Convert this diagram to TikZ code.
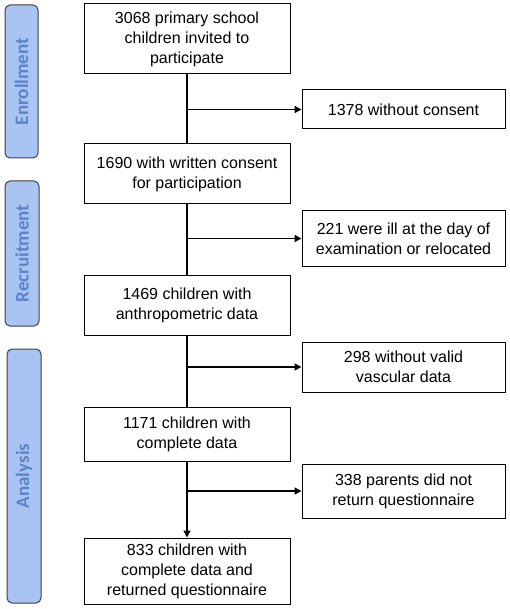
\documentclass[tikz,border=0pt]{standalone}
\usepackage{fontspec}
\setmainfont{Liberation Sans}
\newfontfamily\sidefont{Carlito}
\usetikzlibrary{arrows.meta}
\definecolor{sidefill}{HTML}{A9C3F3}
\definecolor{sidetext}{HTML}{5A84C8}
\definecolor{sideline}{HTML}{404040}
\tikzset{
  mainbox/.style={draw=black, line width=1pt, fill=white, align=center, inner sep=0pt,
    font=\fontsize{16}{20}\selectfont},
  sidebox/.style={draw=sideline, line width=1pt, fill=sidefill, rounded corners=5pt},
  sidelabel/.style={text=sidetext, rotate=90, font=\sidefont\bfseries\fontsize{19}{22}\selectfont},
  flow/.style={line width=1.4pt, draw=black},
  arr/.style={flow, -{Triangle[length=7pt,width=7pt]}}
}
\begin{document}
\begin{tikzpicture}[x=1pt,y=-1pt]
\useasboundingbox (0,0) rectangle (510,609);
% side labels
\draw[sidebox] (5,5) rectangle (38,158);
\node[sidelabel] (enr) at (21.5,81.5) {Enrollment};
\draw[sidebox] (5,181) rectangle (39,326);
\node[sidelabel] (rec) at (22,253.5) {Recruitment};
\draw[sidebox] (7,349) rectangle (41,603);
\node[sidelabel] (ana) at (24,476) {Analysis};
% main boxes
\node[mainbox, minimum width=206pt, minimum height=70pt] (b1) at (187,39) {3068 primary school\\children invited to\\participate};
\node[mainbox, minimum width=206pt, minimum height=60pt] (b2) at (187,174) {1690 with written consent\\for participation};
\node[mainbox, minimum width=206pt, minimum height=60pt] (b3) at (187,305) {1469 children with\\anthropometric data};
\node[mainbox, minimum width=206pt, minimum height=54pt] (b4) at (187,434) {1171 children with\\complete data};
\node[mainbox, minimum width=206pt, minimum height=66pt] (b5) at (187,571) {833 children with\\complete data and\\returned questionnaire};
% right boxes
\node[mainbox, minimum width=203pt, minimum height=39pt] (r1) at (403.5,109.5) {1378 without consent};
\node[mainbox, minimum width=203pt, minimum height=55pt] (r2) at (403.5,238.5) {221 were ill at the day of\\examination or relocated};
\node[mainbox, minimum width=203pt, minimum height=50pt] (r3) at (403.5,367) {298 without valid\\vascular data};
\node[mainbox, minimum width=203pt, minimum height=54pt] (r4) at (403.5,491) {338 parents did not\\return questionnaire};
% branch points
\coordinate (j1) at (187,109.5);
\coordinate (j2) at (187,238.5);
\coordinate (j3) at (187,367);
\coordinate (j4) at (187,491);
% connectors
\draw[flow] (b1.south) -- (b2.north);
\draw[flow] (b2.south) -- (b3.north);
\draw[flow] (b3.south) -- (b4.north);
\draw[arr] (b4.south) -- (b5.north);
\draw[arr] (j1) -- (r1.west);
\draw[arr] (j2) -- (r2.west);
\draw[arr] (j3) -- (r3.west);
\draw[arr] (j4) -- (r4.west);
\end{tikzpicture}
\end{document}
